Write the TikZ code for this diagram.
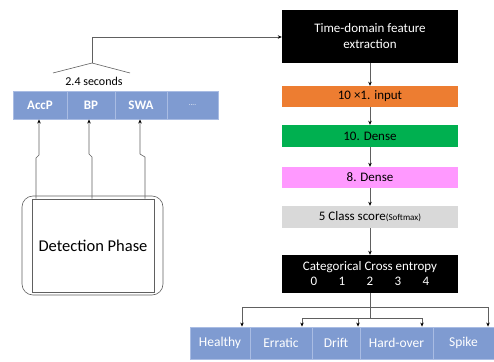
\documentclass[tikz,border=0pt]{standalone}
\usepackage{fontspec}
\setmainfont{Carlito}
\usetikzlibrary{arrows.meta}
\definecolor{cellblue}{HTML}{7F9BD1}
\definecolor{celledge}{HTML}{A9BCE3}
\definecolor{layerorange}{HTML}{ED7D31}
\definecolor{layergreen}{HTML}{00B050}
\definecolor{layerpink}{HTML}{FF99FF}
\definecolor{layergray}{HTML}{D9D9D9}
\definecolor{wire}{HTML}{606060}
\tikzset{
  cell/.style={draw=celledge, line width=0.9pt, fill=cellblue, text=white, inner sep=0pt, font=\fontsize{13.5}{15}\selectfont},
  boldcell/.style={cell, font=\bfseries\fontsize{13}{15}\selectfont},
  layer/.style={minimum width=176pt, inner sep=0pt, font=\fontsize{13}{15}\selectfont},
  blackbox/.style={fill=black, text=white, minimum width=176pt, inner sep=0pt, align=center, font=\fontsize{13}{15}\selectfont},
  wireline/.style={draw=wire, line width=0.6pt},
  arr/.style={wireline, -{Stealth[length=4pt,width=3.5pt,black]}},
}
\newcommand{\digitrow}{\makebox[28pt]{0}\makebox[28pt]{1}\makebox[28pt]{2}\makebox[28pt]{3}\makebox[28pt]{4}}
\begin{document}
\begin{tikzpicture}[x=1pt,y=-1pt]
\useasboundingbox (0,0) rectangle (494,361);

% input window cells
\node[boldcell, minimum width=54pt, minimum height=28pt] (accp) at (40,105) {AccP};
\node[boldcell, minimum width=48pt, minimum height=28pt] (bp) at (91,105) {BP};
\node[boldcell, minimum width=52pt, minimum height=28pt] (swa) at (141,105) {SWA};
\node[cell, font=\fontsize{7}{8}\selectfont, minimum width=51pt, minimum height=28pt] (more) at (192.5,105) {....};

% window length bracket
\coordinate (brl) at (53,73);
\coordinate (apex) at (92,63);
\coordinate (brr) at (130,73);
\draw[wireline] (brl) -- (apex) -- (brr);
\node[font=\fontsize{12}{14}\selectfont] (win) at (94,81) {2.4 seconds};

% detection phase block
\node[draw=wire, line width=0.6pt, rounded corners=11pt, minimum width=141pt, minimum height=99pt] (outer) at (92.5,245.5) {};
\node[draw=wire, line width=0.6pt, minimum width=122pt, minimum height=93pt, font=\fontsize{16.5}{19}\selectfont] (det) at (93,245.5) {Detection Phase};

% feeds from detection to the window cells
\coordinate (j1a) at (36,158); \coordinate (j1b) at (39,155);
\coordinate (j2a) at (92,157); \coordinate (j2b) at (89,154);
\coordinate (j3a) at (145,157); \coordinate (j3b) at (140,154);
\draw[arr] (det.north -| j1a) -- (j1a) -- (j1b) -- (j1b |- accp.south);
\draw[arr] (det.north -| j2a) -- (j2a) -- (j2b) -- (j2b |- bp.south);
\draw[arr] (det.north -| j3a) -- (j3a) -- (j3b) -- (j3b |- swa.south);

% network stack
\node[blackbox, minimum height=53pt] (feat) at (370,36.5) {Time-domain feature\\[1pt]extraction};
\node[layer, fill=layerorange, minimum height=21pt] (inp) at (370,96.5) {10 ×1. input};
\node[layer, fill=layergreen, minimum height=22pt] (d10) at (370,136) {10. Dense};
\node[layer, fill=layerpink, minimum height=21pt] (d8) at (370,177.5) {8. Dense};
\node[layer, fill=layergray, minimum height=22pt] (soft) at (370,217) {5 Class score{\fontsize{9}{10}\selectfont(Softmax)}};
\node[blackbox, minimum height=38pt] (cce) at (370,274) {Categorical Cross entropy\\[0pt]\digitrow};

\coordinate (up) at (92,37);
\draw[arr] (apex) -- (up) -- (up -| feat.west);
\draw[arr] (feat) -- (inp);
\draw[arr] (inp) -- (d10);
\draw[arr] (d10) -- (d8);
\draw[arr] (d8) -- (soft);
\draw[arr] (soft) -- (cce);

% output classes
\node[cell, minimum width=60pt, minimum height=32pt] (healthy) at (220,343) {Healthy};
\node[cell, minimum width=62pt, minimum height=32pt] (erratic) at (281,343) {Erratic};
\node[cell, minimum width=48pt, minimum height=32pt] (drift) at (336,343) {Drift};
\node[cell, minimum width=73pt, minimum height=32pt] (hard) at (396.5,343) {Hard-over};
\node[cell, minimum width=61pt, minimum height=32pt] (spike) at (463.5,343) {Spike};

% class distribution tree
\coordinate (trunk) at (370,318);
\coordinate (outl) at (242,307);
\coordinate (outr) at (488,307);
\coordinate (inl) at (302,318);
\coordinate (inm) at (358,318);
\coordinate (inr) at (422,318);
\draw[wireline] (cce.south -| trunk) -- (trunk);
\draw[wireline] (outl) -- (outr);
\draw[wireline] (inl) -- (inr);
\draw[arr] (outl) -- (outl |- healthy.north);
\draw[arr] (outr) -- (outr |- spike.north);
\draw[arr] (inl) -- (inl |- erratic.north);
\draw[arr] (inm) -- (inm |- drift.north);
\draw[arr] (inr) -- (inr |- hard.north);
\end{tikzpicture}
\end{document}
